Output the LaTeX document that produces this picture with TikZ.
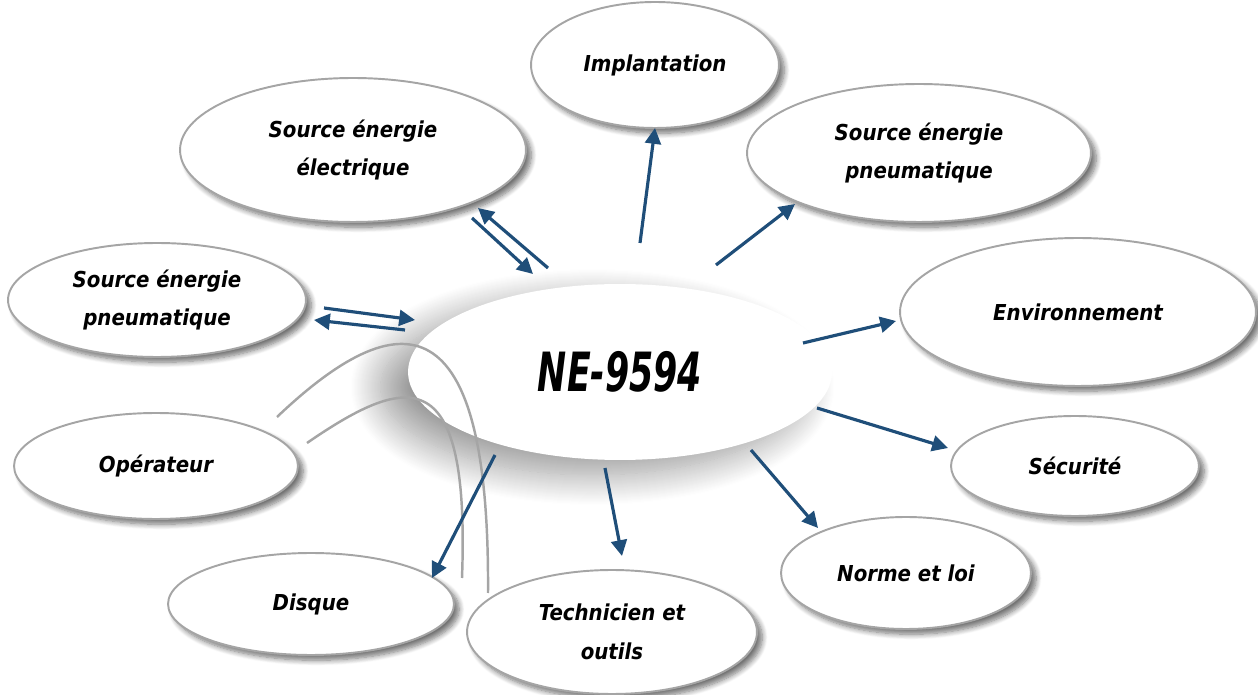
\documentclass[tikz,border=0pt]{standalone}
\usepackage{fontspec}
\setmainfont{DejaVu Sans Condensed}
\usetikzlibrary{shapes.geometric,arrows.meta,shadows.blur}
\definecolor{arrblue}{RGB}{31,78,121}
\definecolor{rimgray}{RGB}{165,165,165}
\tikzset{
  bulle/.style={ellipse, draw=rimgray, line width=1.1pt, fill=white, inner sep=0pt, align=center,
    font=\fontsize{12.5}{22}\selectfont\bfseries\itshape,
    blur shadow={shadow xshift=3pt, shadow yshift=-3pt, shadow blur radius=3pt, shadow blur steps=8, shadow opacity=55}},
  fleche/.style={draw=arrblue, line width=1.8pt, -{Triangle[length=9pt,width=9pt]}},
  fil/.style={draw=rimgray, line width=1.4pt},
}
\begin{document}
\begin{tikzpicture}[x=0.02cm,y=-0.02cm]
    \useasboundingbox (0,0) rectangle (1258,695);
    % centre
    \node[ellipse, fill=white, inner sep=0pt, minimum width=8.48cm, minimum height=3.52cm,
      font=\fontsize{22}{26}\selectfont\bfseries\itshape,
      blur shadow={shadow xshift=-0.55cm, shadow yshift=-0.3cm, shadow blur radius=0.6cm, shadow blur steps=30, shadow opacity=40}]
      (ne) at (620,372) {\scalebox{1}[1.4]{NE-9594}};
    % bulles
    \node[bulle, minimum width=4.96cm, minimum height=2.52cm] (impl) at (655,65) {Implantation};
    \node[bulle, minimum width=6.92cm, minimum height=2.88cm] (elec) at (353,150) {Source énergie\\électrique};
    \node[bulle, minimum width=6.88cm, minimum height=2.76cm] (pneuR) at (919,153) {Source énergie\\pneumatique};
    \node[bulle, minimum width=5.96cm, minimum height=2.28cm] (pneuL) at (157,300) {Source énergie\\pneumatique};
    \node[bulle, minimum width=7.12cm, minimum height=2.96cm] (env) at (1078,312) {Environnement};
    \node[bulle, minimum width=5.68cm, minimum height=2.12cm] (oper) at (156,466) {Opérateur};
    \node[bulle, minimum width=4.96cm, minimum height=2.0cm] (secu) at (1075,466) {Sécurité};
    \node[bulle, minimum width=5.0cm, minimum height=2.24cm] (norme) at (906,573) {Norme et loi};
    \node[bulle, minimum width=5.72cm, minimum height=2.04cm] (disq) at (311,604) {Disque};
    \node[bulle, minimum width=5.8cm, minimum height=2.48cm] (tech) at (612,632) {Technicien et\\outils};
    % fils gris
    \draw[fil] (277,417) .. controls (400,300) and (490,300) .. (488,593);
    \draw[fil] (307,443) .. controls (410,372) and (470,362) .. (462,578);
    % bouts des fleches
    \coordinate (i0) at (640,243);  \coordinate (i1) at (655,128);
    \coordinate (e0) at (548,268);  \coordinate (e1) at (478,208);
    \coordinate (e2) at (472,218);  \coordinate (e3) at (533,274);
    \coordinate (r0) at (716,265);  \coordinate (r1) at (795,204);
    \coordinate (l0) at (324,308);  \coordinate (l1) at (415,320);
    \coordinate (l2) at (405,330);  \coordinate (l3) at (314,320);
    \coordinate (v0) at (803,343);  \coordinate (v1) at (896,321);
    \coordinate (s0) at (817,408);  \coordinate (s1) at (948,448);
    \coordinate (n0) at (751,450);  \coordinate (n1) at (818,528);
    \coordinate (t0) at (605,468);  \coordinate (t1) at (622,556);
    \coordinate (d0) at (495,455);  \coordinate (d1) at (432,578);
    \draw[fleche] (i0) -- (i1);
    \draw[fleche] (e0) -- (e1);
    \draw[fleche] (e2) -- (e3);
    \draw[fleche] (r0) -- (r1);
    \draw[fleche] (l0) -- (l1);
    \draw[fleche] (l2) -- (l3);
    \draw[fleche] (v0) -- (v1);
    \draw[fleche] (s0) -- (s1);
    \draw[fleche] (n0) -- (n1);
    \draw[fleche] (t0) -- (t1);
    \draw[fleche] (d0) -- (d1);
\end{tikzpicture}
\end{document}
